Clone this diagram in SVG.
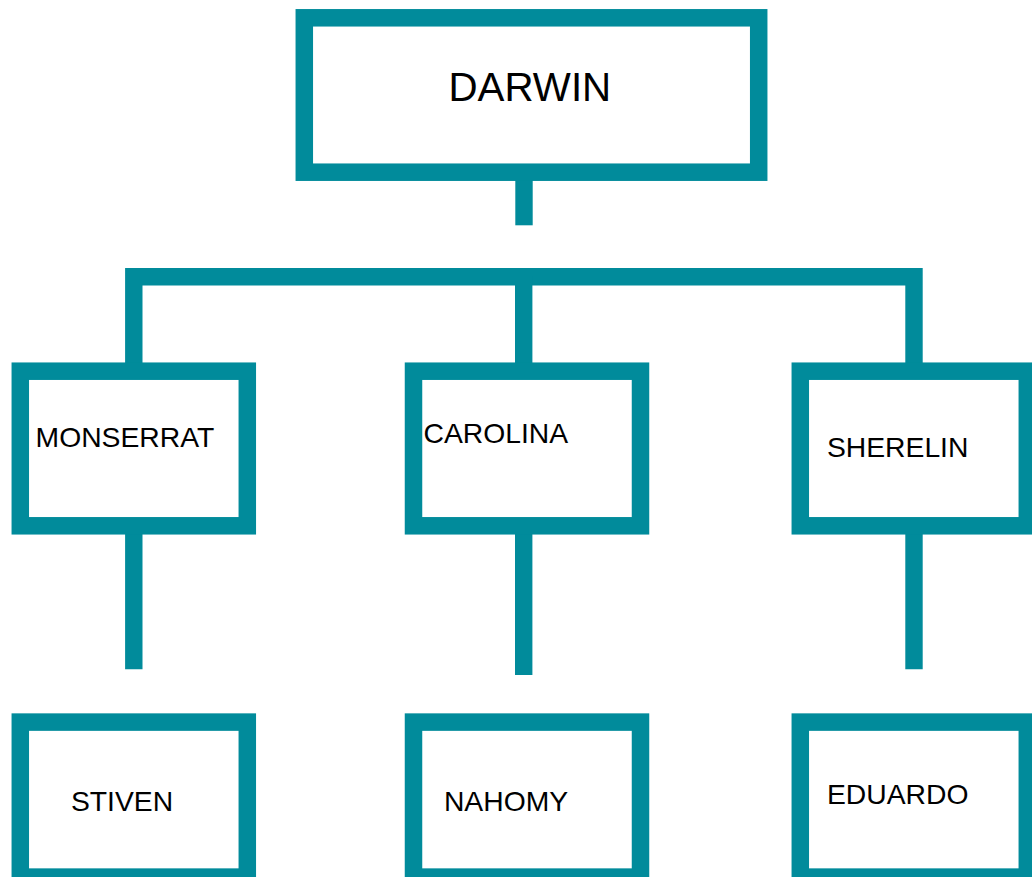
<svg xmlns="http://www.w3.org/2000/svg" width="1032" height="877" viewBox="0 0 1032 877">
<style>
.box{fill:#ffffff;stroke:#018b9b;stroke-width:17.5}
.con{fill:none;stroke:#018b9b;stroke-width:17.4;stroke-linejoin:miter;stroke-linecap:butt}
text{font-family:"Liberation Sans",Arial,sans-serif;fill:#000000;font-size:28.3px}
.big{font-size:40.3px}
</style>
<rect width="1032" height="877" fill="#ffffff"/>
<g id="connectors">
<line class="con" x1="524" y1="180" x2="524" y2="225.3"/>
<polyline class="con" points="133.8,363 133.8,276.7 914,276.7 914,363"/>
<line class="con" x1="523.7" y1="276" x2="523.7" y2="363"/>
<line class="con" x1="133.8" y1="533" x2="133.8" y2="669.3"/>
<line class="con" x1="523.7" y1="533" x2="523.7" y2="675"/>
<line class="con" x1="914" y1="533" x2="914" y2="669.3"/>
</g>
<g id="darwin">
<rect class="box" x="304.3" y="17.8" width="454.4" height="154.4"/>
<text class="big" x="448.5" y="100.7">DARWIN</text>
</g>
<g id="monserrat">
<rect class="box" x="20.3" y="371.2" width="227" height="154.6"/>
<text x="35.6" y="447.3">MONSERRAT</text>
</g>
<g id="carolina">
<rect class="box" x="413.5" y="371.2" width="227" height="154.6"/>
<text x="423.5" y="443.3">CAROLINA</text>
</g>
<g id="sherelin">
<rect class="box" x="800.3" y="371.2" width="227" height="154.6"/>
<text x="826.9" y="456.7">SHERELIN</text>
</g>
<g id="stiven">
<rect class="box" x="20.3" y="722.1" width="227" height="155"/>
<text x="70.9" y="810.7">STIVEN</text>
</g>
<g id="nahomy">
<rect class="box" x="413.5" y="722.1" width="227" height="155"/>
<text x="443.9" y="811">NAHOMY</text>
</g>
<g id="eduardo">
<rect class="box" x="800.3" y="722.1" width="227" height="155"/>
<text x="827" y="804">EDUARDO</text>
</g>
</svg>
